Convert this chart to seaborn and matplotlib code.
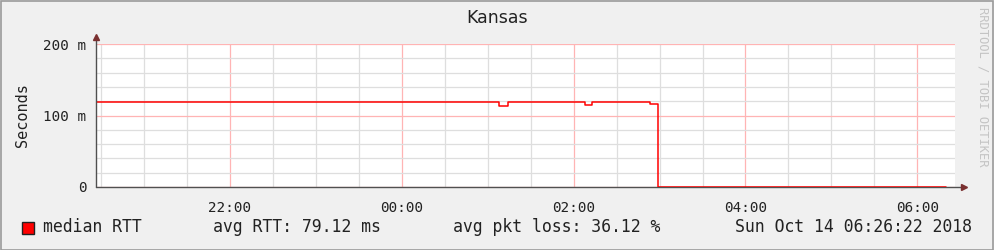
import matplotlib
matplotlib.use("Agg")
import matplotlib.pyplot as plt
import matplotlib.dates as mdates
from matplotlib.ticker import MultipleLocator
from matplotlib.patches import Rectangle
import seaborn as sns
import pandas as pd

# ---- data ----
title = "Kansas"
ylabel = "Seconds"
series_name = "median RTT"
step_times = ["2018-10-13 20:26:22", "2018-10-14 01:08:00", "2018-10-14 01:14:00",
              "2018-10-14 02:08:00", "2018-10-14 02:13:00", "2018-10-14 02:53:00",
              "2018-10-14 02:59:00", "2018-10-14 06:20:00"]
rtt_values = [0.1182, 0.1126, 0.1182, 0.1140, 0.1182, 0.1165, 0.0, 0.0]
y_ticks = [0.0, 0.1, 0.2]
y_tick_labels = ["0", "100 m", "200 m"]
x_start = "2018-10-13 20:26:22"
x_end = "2018-10-14 06:26:22"
stat_avg_rtt = "avg RTT: 79.12 ms"
stat_loss = "avg pkt loss: 36.12 %"
stamp = "Sun Oct 14 06:26:22 2018"
credit = "RRDTOOL / TOBI OETIKER"

df = pd.DataFrame({"time": pd.to_datetime(step_times), "rtt": rtt_values})

sns.set_style("white")
plt.rcParams["font.family"] = ["DejaVu Sans Mono", "DejaVu Sans"]

W, H = 994, 250
fig = plt.figure(figsize=(W / 100, H / 100), dpi=100, facecolor="#f0f0f0")
L, R, T, B = 96, 955, 44, 187
ax = fig.add_axes([L / W, 1 - B / H, (R - L) / W, (B - T) / H])
ax.set_facecolor("white")

sns.lineplot(data=df, x="time", y="rtt", drawstyle="steps-post", color="#ff0000",
             lw=1.1, ax=ax, legend=False, zorder=5)

ax.set_xlim(pd.Timestamp(x_start), pd.Timestamp(x_end))
ax.set_ylim(0, 0.2)

ax.xaxis.set_major_locator(mdates.HourLocator(byhour=range(0, 24, 2)))
ax.xaxis.set_minor_locator(mdates.MinuteLocator(byminute=[0, 30]))
ax.xaxis.set_major_formatter(mdates.DateFormatter("%H:%M"))
ax.set_yticks(y_ticks)
ax.set_yticklabels(y_tick_labels)
ax.yaxis.set_minor_locator(MultipleLocator(0.02))

ax.grid(which="minor", color="#dedede", lw=0.9)
ax.grid(which="major", color="#ffb4b4", lw=0.9)
ax.set_axisbelow(True)

for s in ax.spines.values():
    s.set_visible(False)

ax.tick_params(axis="both", which="major", length=4, width=0.8, color="#888888",
               labelsize=10.3, labelcolor="#222222", pad=3)
ax.tick_params(axis="both", which="minor", length=2, width=0.6, color="#aaaaaa")
ax.tick_params(axis="x", pad=6)
ax.set_xlabel("")
ax.set_ylabel(ylabel, fontsize=11, color="#222222")
ax.yaxis.set_label_coords(-66 / (R - L), 0.5)

# axes lines with arrows
ax.plot([0, 1 + 10 / (R - L)], [0, 0], transform=ax.transAxes, color="#505050",
        lw=1, clip_on=False, zorder=4)
ax.plot([1 + 9 / (R - L)], [0], marker=">", ms=5, color="#7a3030",
        transform=ax.transAxes, clip_on=False, zorder=6)
ax.plot([0, 0], [0, 1 + 8 / (B - T)], transform=ax.transAxes, color="#505050",
        lw=1, clip_on=False, zorder=6)
ax.plot([0], [1 + 7 / (B - T)], marker="^", ms=5, color="#7a3030",
        transform=ax.transAxes, clip_on=False, zorder=6)

# title and texts
fig.text(497 / W, 1 - 18 / H, title, ha="center", va="center", fontsize=12.5,
         family="DejaVu Sans", color="#222222")
fig.text(983 / W, 1 - 87 / H, credit, ha="center", va="center", rotation=270,
         fontsize=8.7, color="#c4c4c4")

ly = 1 - 227 / H
fs = 11.9
fig.patches.append(Rectangle((22 / W, 1 - 234 / H), 12 / W, 12 / H, transform=fig.transFigure,
                             facecolor="#ff0000", edgecolor="#222222", lw=1))
fig.text(43 / W, ly, series_name, ha="left", va="center", fontsize=fs, color="#222222")
fig.text(213 / W, ly, stat_avg_rtt, ha="left", va="center", fontsize=fs, color="#222222")
fig.text(453 / W, ly, stat_loss, ha="left", va="center", fontsize=fs, color="#222222")
fig.text(735 / W, ly, stamp, ha="left", va="center", fontsize=fs, color="#222222")

# outer border
fig.patches.append(Rectangle((0.5 / W, 0.5 / H), (W - 1.5) / W, (H - 1.5) / H,
                             transform=fig.transFigure, facecolor="none",
                             edgecolor="#9a9a9a", lw=1.2))

fig.savefig("out.png", dpi=100, facecolor=fig.get_facecolor())
